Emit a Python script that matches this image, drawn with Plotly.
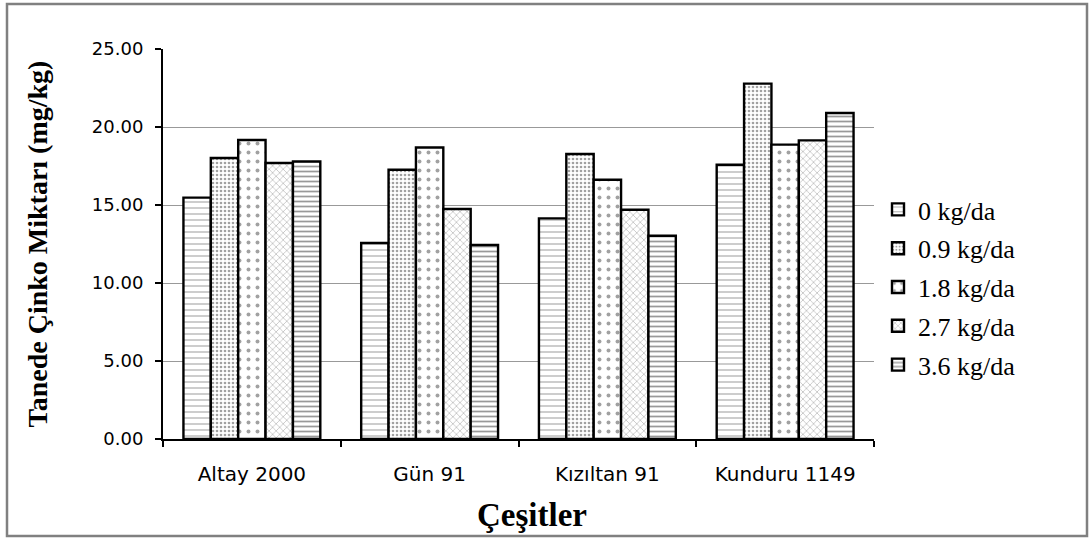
import plotly.graph_objects as go

categories = ["Altay 2000", "Gün 91", "Kızıltan 91", "Kunduru 1149"]
series_names = ["0 kg/da", "0.9 kg/da", "1.8 kg/da", "2.7 kg/da", "3.6 kg/da"]
v_0 = [15.47, 12.56, 14.14, 17.58]
v_09 = [18.01, 17.26, 18.27, 22.78]
v_18 = [19.17, 18.69, 16.62, 18.87]
v_27 = [17.69, 14.74, 14.70, 19.14]
v_36 = [17.79, 12.44, 13.03, 20.90]
y_ticks = [0, 5, 10, 15, 20, 25]
y_ticktext = ["0.00", "5.00", "10.00", "15.00", "20.00", "25.00"]

values = [v_0, v_09, v_18, v_27, v_36]
patterns = [
    dict(shape="-", size=6, solidity=0.2, fgcolor="#555555"),
    dict(shape=".", size=4, solidity=0.35, fgcolor="#444444"),
    dict(shape=".", size=9, solidity=0.15, fgcolor="#444444"),
    dict(shape="x", size=5, solidity=0.2, fgcolor="#444444"),
    dict(shape="-", size=5, solidity=0.35, fgcolor="#333333"),
]

fig = go.Figure()
for i, (name, vals, pat) in enumerate(zip(series_names, values, patterns)):
    fig.add_trace(go.Bar(
        x=categories, y=vals, name=name, legendgroup=f"g{i}",
        marker=dict(color="white",
                    line=dict(color="black", width=2.4),
                    pattern=dict(bgcolor="white", fillmode="overlay", **pat)),
    ))

W, H = 1089, 541
L, R, T, B = 163, 215, 49, 102
pw, ph = W - L - R, H - T - B

def px(x):
    return (x - L) / pw

def py(y):
    return (H - B - y) / ph

fig.update_layout(
    width=W, height=H,
    margin=dict(l=L, r=R, t=T, b=B),
    paper_bgcolor="white", plot_bgcolor="white",
    barmode="group", bargap=0.23, bargroupgap=0,
    showlegend=True,
    legend=dict(x=px(878), y=py(186), xanchor="left", yanchor="top",
                font=dict(family="Liberation Serif", size=26, color="black"),
                itemwidth=30, tracegroupgap=2, bgcolor="rgba(0,0,0,0)"),
    font=dict(family="DejaVu Sans", color="black"),
    shapes=[dict(type="rect", xref="paper", yref="paper",
                 x0=px(7), x1=px(1087), y0=py(4), y1=py(536),
                 line=dict(color="#808080", width=2.5), fillcolor="rgba(0,0,0,0)", layer="below")],
    annotations=[dict(text="<b>Çeşitler</b>", xref="paper", yref="paper",
                      x=px(532), y=py(515), xanchor="center", yanchor="middle", showarrow=False,
                      font=dict(family="Liberation Serif", size=33, color="black"))],
)
fig.update_xaxes(
    showline=True, linecolor="black", linewidth=2,
    ticks="outside", tickson="boundaries", ticklen=6, tickwidth=2, tickcolor="black",
    tickfont=dict(family="DejaVu Sans", size=20, color="black"),
    ticklabelstandoff=16,
)
fig.update_yaxes(
    range=[0, 25], tickvals=y_ticks, ticktext=y_ticktext,
    showline=True, linecolor="black", linewidth=2,
    ticks="outside", ticklen=6, tickwidth=2, tickcolor="black",
    showgrid=True, gridcolor="#999999", gridwidth=1,
    tickfont=dict(family="DejaVu Sans", size=18, color="black"),
    ticklabelstandoff=8,
    title=dict(text="<b>Tanede Çinko Miktarı (mg/kg)</b>", font=dict(family="Liberation Serif", size=28, color="black"), standoff=36),
    zeroline=False,
)
fig.write_html("out.html", config={"displayModeBar": False},
               post_script="document.body.style.margin='0px';")
